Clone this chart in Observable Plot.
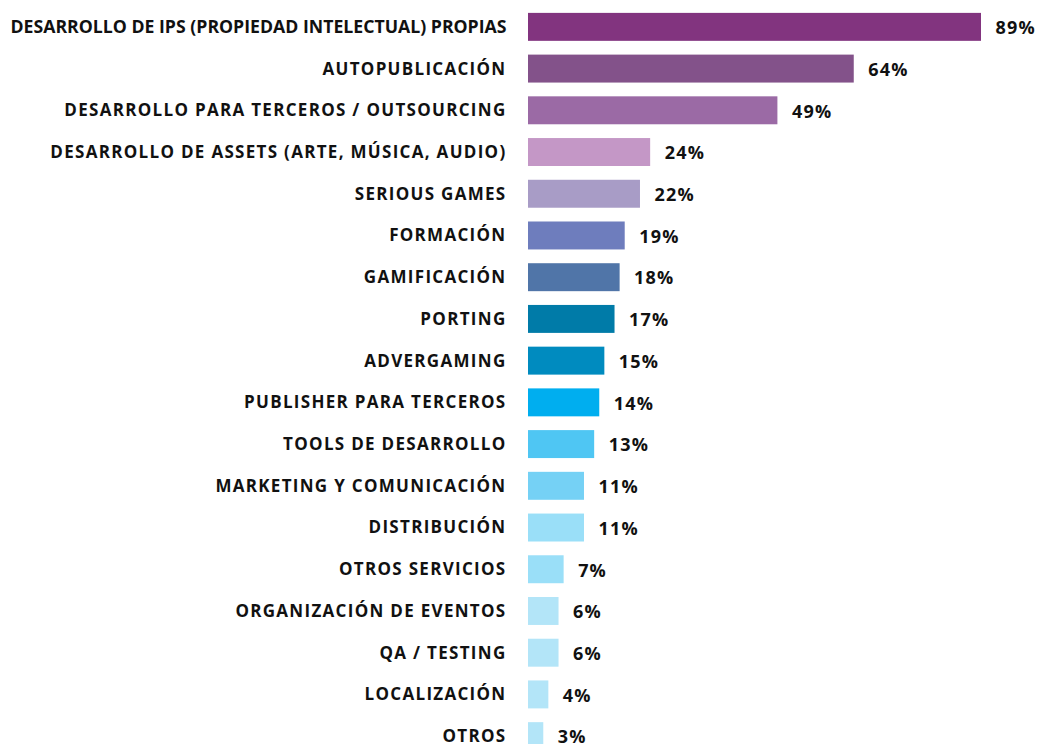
<!DOCTYPE html>
<html>
<head>
<meta charset="utf-8">
<script src="https://cdn.jsdelivr.net/npm/d3@7"></script>
<script src="https://cdn.jsdelivr.net/npm/@observablehq/plot@0.6"></script>
<style>
  html, body { margin: 0; padding: 0; background: #fff; }
  #chart svg { display: block; }
</style>
</head>
<body>
<div id="chart"></div>
<script>
const categories = [
  "DESARROLLO DE IPS (PROPIEDAD INTELECTUAL) PROPIAS",
  "AUTOPUBLICACIÓN",
  "DESARROLLO PARA TERCEROS / OUTSOURCING",
  "DESARROLLO DE ASSETS (ARTE, MÚSICA, AUDIO)",
  "SERIOUS GAMES",
  "FORMACIÓN",
  "GAMIFICACIÓN",
  "PORTING",
  "ADVERGAMING",
  "PUBLISHER PARA TERCEROS",
  "TOOLS DE DESARROLLO",
  "MARKETING Y COMUNICACIÓN",
  "DISTRIBUCIÓN",
  "OTROS SERVICIOS",
  "ORGANIZACIÓN DE EVENTOS",
  "QA / TESTING",
  "LOCALIZACIÓN",
  "OTROS"
];
const values = [89, 64, 49, 24, 22, 19, 18, 17, 15, 14, 13, 11, 11, 7, 6, 6, 4, 3];
const colors = [
  "#82347f", "#83528a", "#9b6aa5", "#c497c6", "#a89cc6", "#6e7dbd",
  "#5075a8", "#007ba8", "#008bbf", "#00aeef", "#4fc6f3", "#75d1f5",
  "#9adff8", "#9adff8", "#b3e5f8", "#b3e5f8", "#b3e5f8", "#b3e5f8"
];

const data = categories.map((c, i) => ({category: c, value: values[i], color: colors[i]}));

const chart = Plot.plot({
  width: 1038,
  height: 744,
  marginLeft: 528,
  marginRight: 57,
  marginTop: 0,
  marginBottom: 0,
  style: {fontFamily: "'Open Sans', 'Noto Sans', sans-serif", background: "#fff"},
  x: {domain: [0, 89], range: [528, 981], axis: null},
  y: {domain: categories, range: [6, 757], paddingInner: 0.33, paddingOuter: 0.165, round: false, label: null},
  marks: [
    Plot.barX(data, {y: "category", x: "value", fill: "color"}),
    Plot.text(data, {
      y: "category", x: "value", text: d => d.value + "%",
      textAnchor: "start", dx: 14, dy: 1,
      fontSize: 18, fontWeight: "bold", fill: "#111",
      className: "vlabel"
    }),
    Plot.axisY({
      tickSize: 0, tickPadding: 22, fontSize: 17, fontWeight: "bold",
      fill: "#111", label: null
    })
  ]
});
d3.select(chart).selectAll(".vlabel text").style("letter-spacing", "1.2px");
d3.select(chart).selectAll("[aria-label='y-axis tick label'] text")
  .style("letter-spacing", "1.3px")
  .each(function() {
    if (this.textContent === categories[0]) {
      d3.select(this).style("letter-spacing", "0px")
        .attr("textLength", 496).attr("lengthAdjust", "spacingAndGlyphs");
    }
  });
document.getElementById("chart").appendChild(chart);
</script>
</body>
</html>
